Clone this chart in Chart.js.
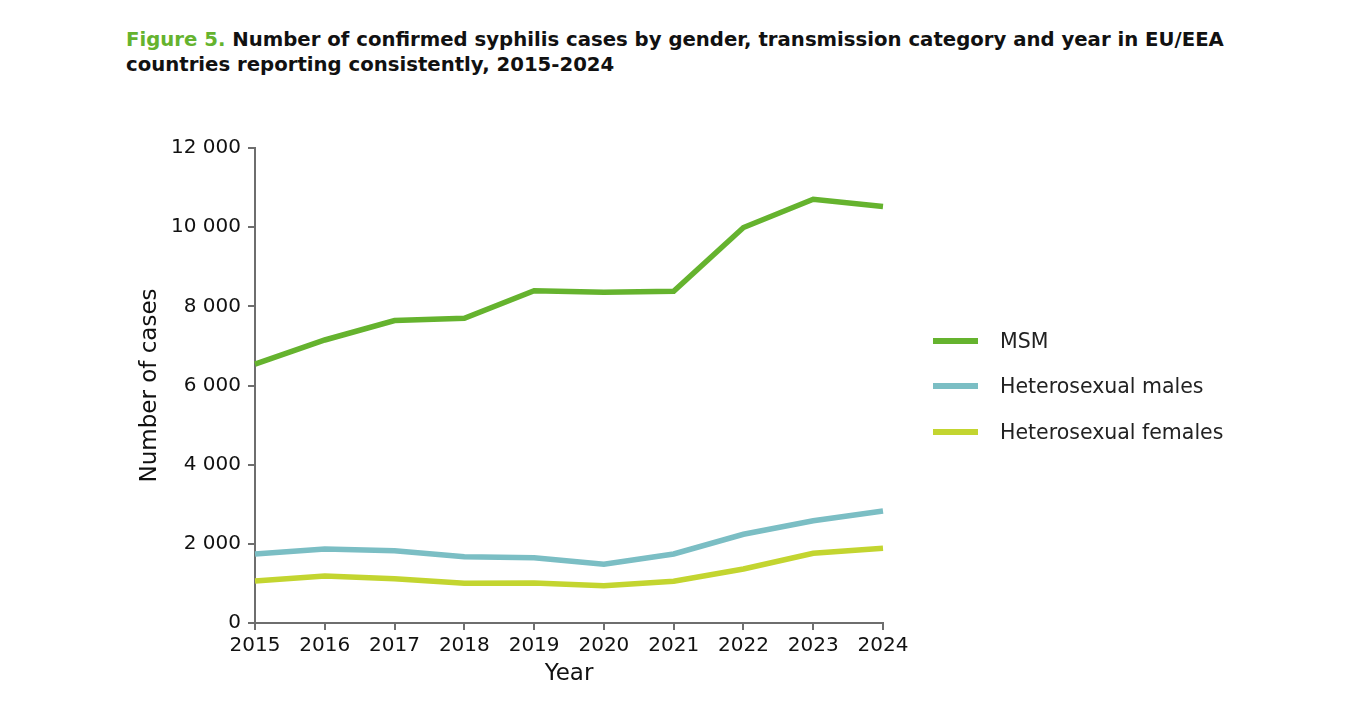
<!DOCTYPE html>
<html>
<head>
<meta charset="utf-8">
<script src="https://cdn.jsdelivr.net/npm/chart.js@4.4.1/dist/chart.umd.min.js"></script>
<style>
  html, body { margin: 0; padding: 0; background: #fff; }
  body { width: 1359px; height: 720px; position: relative; overflow: hidden; font-family: "DejaVu Sans", sans-serif; }
  #title { position: absolute; left: 126px; top: 27px; font-size: 19.7px; font-weight: bold; line-height: 25px; color: #111; }
  #title .fig { color: #65b32e; }
  #wrap { position: absolute; left: 0; top: 0; width: 1359px; height: 720px; }
  #legend { position: absolute; left: 933px; top: 318px; font-size: 20.5px; color: #222; }
  #legend .item { height: 45.5px; display: flex; align-items: center; }
  #legend .swatch { width: 45px; height: 6px; margin-right: 22px; }
</style>
</head>
<body>
<div id="title"><span class="fig">Figure 5.</span> Number of confirmed syphilis cases by gender, transmission category and year in EU/EEA<br>countries reporting consistently, 2015-2024</div>
<div id="wrap"><canvas id="chart"></canvas></div>
<div id="legend"></div>
<script>
    // valores
    const years = ['2015', '2016', '2017', '2018', '2019', '2020', '2021', '2022', '2023', '2024'];
    const msm = [6540, 7150, 7640, 7700, 8395, 8355, 8380, 9990, 10705, 10520];
    const heteroMales = [1743, 1870, 1827, 1676, 1650, 1483, 1743, 2241, 2585, 2830];
    const heteroFemales = [1061, 1187, 1120, 1003, 1010, 942, 1053, 1364, 1760, 1887];
    const yTicks = [0, 2000, 4000, 6000, 8000, 10000, 12000];

    const axisColor = '#6e6e6e';
    const tickFont = { family: 'DejaVu Sans', size: 20 };
    const titleFont = { family: 'DejaVu Sans', size: 23 };

    const datasets = [
        { label: 'MSM', data: msm, borderColor: '#65b32e' },
        { label: 'Heterosexual males', data: heteroMales, borderColor: '#7bbec4' },
        { label: 'Heterosexual females', data: heteroFemales, borderColor: '#c3d530' }
    ].map(d => Object.assign(d, {
        borderWidth: 5.5,
        pointRadius: 0,
        fill: false,
        tension: 0,
        borderJoinStyle: 'miter',
        borderCapStyle: 'butt'
    }));

    const chart = new Chart(document.getElementById('chart'), {
        type: 'line',
        data: { labels: years, datasets: datasets },
        options: {
            responsive: true,
            maintainAspectRatio: false,
            animation: false,
            layout: { padding: { left: 130, right: 476, top: 148, bottom: 27 } },
            plugins: { legend: { display: false }, tooltip: { enabled: false } },
            scales: {
                x: {
                    offset: false,
                    grid: { drawOnChartArea: false, drawTicks: true, tickLength: 7, color: axisColor, lineWidth: 2 },
                    border: { display: true, color: axisColor, width: 2 },
                    ticks: { color: '#111', font: tickFont, padding: 4, maxRotation: 0, autoSkip: false },
                    title: { display: true, text: 'Year', color: '#111', font: titleFont, padding: { top: 0, bottom: 5 } },
                    afterFit: s => { s.height = 70; }
                },
                y: {
                    min: 0,
                    max: 12000,
                    afterBuildTicks: s => { s.ticks = yTicks.map(v => ({ value: v })); },
                    grid: { drawOnChartArea: false, drawTicks: true, tickLength: 7, color: axisColor, lineWidth: 2 },
                    border: { display: true, color: axisColor, width: 2 },
                    ticks: {
                        color: '#111', font: tickFont, padding: 7,
                        callback: v => v.toLocaleString('en-US').replace(/,/g, ' ')
                    },
                    title: { display: true, text: 'Number of cases', color: '#111', font: titleFont, padding: { top: 6, bottom: 0 } },
                    afterFit: s => { s.width = 125; }
                }
            }
        }
    });

    // legenda em HTML
    const legend = document.getElementById('legend');
    datasets.forEach(d => {
        const item = document.createElement('div');
        item.className = 'item';
        item.innerHTML = '<span class="swatch" style="background:' + d.borderColor + '"></span><span>' + d.label + '</span>';
        legend.appendChild(item);
    });
</script>
</body>
</html>
